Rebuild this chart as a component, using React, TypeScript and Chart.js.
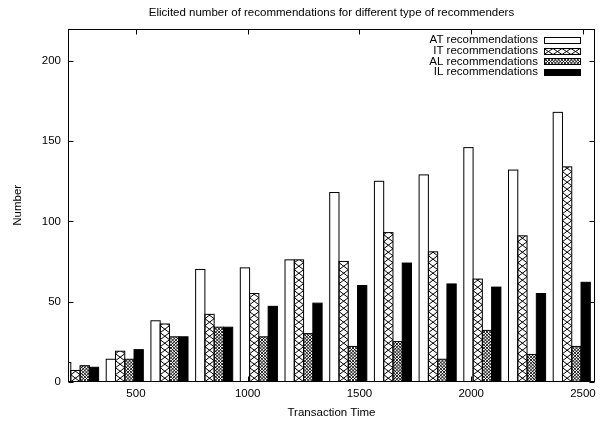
import React, { useEffect, useRef } from 'react';
import { Chart, registerables } from 'chart.js';

Chart.register(...registerables);

const FONT_FAMILY = "'Liberation Sans', Arial, Helvetica, sans-serif";
const FONT_SIZE = 11.5;

const TITLE = 'Elicited number of recommendations for different type of recommenders';
const X_LABEL = 'Transaction Time';
const Y_LABEL = 'Number';

// group positions on the Transaction Time axis
const GROUP_X = [250, 450, 650, 850, 1050, 1250, 1450, 1650, 1850, 2050, 2250, 2450];

const SERIES_NAMES = ['AT recommendations', 'IT recommendations', 'AL recommendations', 'IL recommendations'];
const AT_VALUES = [12, 14, 38, 70, 71, 76, 118, 125, 129, 146, 132, 168];
const IT_VALUES = [7, 19, 36, 42, 55, 76, 75, 93, 81, 64, 91, 134];
const AL_VALUES = [10, 14, 28, 34, 28, 30, 22, 25, 14, 32, 17, 22];
const IL_VALUES = [9, 20, 28, 34, 47, 49, 60, 74, 61, 59, 55, 62];

const X_TICKS = [500, 1000, 1500, 2000, 2500];
const Y_TICKS = [0, 50, 100, 150, 200];

const SERIES_FILL = ['#ffffff', '#ffffff', '#ffffff', '#000000'];
const SERIES_PATTERN = ['none', 'cross', 'fine', 'none'];

function drawCross(ctx: CanvasRenderingContext2D, x: number, y: number, w: number, h: number, cellW: number, cellH: number) {
  ctx.save();
  ctx.beginPath();
  ctx.rect(x, y, w, h);
  ctx.clip();
  ctx.beginPath();
  const nx = Math.max(1, Math.round(w / cellW));
  const cw = w / nx;
  for (let yb = y + h; yb > y - cellH; yb -= cellH) {
    for (let i = 0; i < nx; i++) {
      const x0 = x + i * cw;
      const x1 = x0 + cw;
      ctx.moveTo(x0, yb);
      ctx.lineTo(x1, yb - cellH);
      ctx.moveTo(x1, yb);
      ctx.lineTo(x0, yb - cellH);
    }
  }
  ctx.lineWidth = 1;
  ctx.strokeStyle = '#000';
  ctx.stroke();
  ctx.restore();
}

function drawFine(ctx: CanvasRenderingContext2D, x: number, y: number, w: number, h: number, step: number) {
  ctx.save();
  ctx.beginPath();
  ctx.rect(x, y, w, h);
  ctx.clip();
  ctx.beginPath();
  for (let d = -h - step; d < w + h + step; d += step) {
    ctx.moveTo(x + d, y + h);
    ctx.lineTo(x + d + h, y);
    ctx.moveTo(x + d, y);
    ctx.lineTo(x + d + h, y + h);
  }
  ctx.lineWidth = 0.9;
  ctx.strokeStyle = '#000';
  ctx.stroke();
  ctx.restore();
}

function drawPattern(ctx: CanvasRenderingContext2D, kind: string, x: number, y: number, w: number, h: number, cellW: number, cellH: number) {
  if (kind === 'cross') drawCross(ctx, x, y, w, h, cellW, cellH);
  else if (kind === 'fine') drawFine(ctx, x, y, w, h, 3.2);
}

const gnuplotPlugin = {
  id: 'gnuplotLook',
  afterDatasetsDraw(chart: any) {
    const ctx: CanvasRenderingContext2D = chart.ctx;
    const a = chart.chartArea;
    ctx.save();
    ctx.beginPath();
    ctx.rect(a.left, a.top, a.right - a.left, a.bottom - a.top);
    ctx.clip();
    ctx.strokeStyle = '#000';
    ctx.lineWidth = 1;
    chart.data.datasets.forEach((_ds: any, di: number) => {
      const meta = chart.getDatasetMeta(di);
      meta.data.forEach((el: any) => {
        const p = el.getProps(['x', 'y', 'base', 'width'], true);
        const left = p.x - p.width / 2;
        const top = Math.min(p.y, p.base);
        const h = Math.abs(p.base - p.y);
        drawPattern(ctx, SERIES_PATTERN[di], left, top, p.width, h, p.width, 7);
        ctx.lineWidth = 1;
        ctx.strokeStyle = '#000';
        ctx.strokeRect(left, top, p.width, h);
      });
    });
    ctx.restore();

    // frame and inward ticks
    ctx.save();
    ctx.strokeStyle = '#000';
    ctx.lineWidth = 1;
    const L = Math.round(a.left) + 0.5;
    const R = Math.round(a.right) - 0.5;
    const T = Math.round(a.top) + 0.5;
    const B = Math.round(a.bottom) - 0.5;
    ctx.strokeRect(L, T, R - L, B - T);
    const tick = 5;
    ctx.beginPath();
    X_TICKS.forEach((v) => {
      const px = Math.round(chart.scales.x.getPixelForValue(v)) + 0.5;
      ctx.moveTo(px, B);
      ctx.lineTo(px, B - tick);
      ctx.moveTo(px, T);
      ctx.lineTo(px, T + tick);
    });
    Y_TICKS.forEach((v) => {
      const py = Math.round(chart.scales.y.getPixelForValue(v)) + 0.5;
      ctx.moveTo(L, py);
      ctx.lineTo(L + tick, py);
      ctx.moveTo(R, py);
      ctx.lineTo(R - tick, py);
    });
    ctx.stroke();

    // key (legend), top-right inside the plot
    ctx.font = `${FONT_SIZE}px ${FONT_FAMILY}`;
    ctx.textAlign = 'right';
    ctx.textBaseline = 'middle';
    const textRight = a.right - 57;
    const boxLeft = a.right - 51;
    const boxW = 36;
    const boxH = 6;
    SERIES_NAMES.forEach((name, i) => {
      const cy = a.top + 11 + i * 10.7;
      ctx.fillStyle = '#000';
      ctx.fillText(name, textRight, cy);
      const by = Math.round(cy - boxH / 2) + 0.5;
      ctx.fillStyle = SERIES_FILL[i];
      ctx.fillRect(boxLeft, by, boxW, boxH);
      drawPattern(ctx, SERIES_PATTERN[i], boxLeft, by, boxW, boxH, 9, boxH);
      ctx.strokeStyle = '#000';
      ctx.lineWidth = 1;
      ctx.strokeRect(boxLeft + 0.5, by, boxW, boxH);
    });
    ctx.restore();
  },
};

export default function App() {
  const ref = useRef<HTMLCanvasElement>(null);
  useEffect(() => {
    const canvas = ref.current;
    if (!canvas) return;
    const seriesValues = [AT_VALUES, IT_VALUES, AL_VALUES, IL_VALUES];
    const font = { family: FONT_FAMILY, size: FONT_SIZE, weight: 'normal' as const, lineHeight: 1.2 };
    const chart = new Chart(canvas, {
      type: 'bar',
      data: {
        datasets: SERIES_NAMES.map((name, s) => ({
          label: name,
          data: GROUP_X.map((x, i) => ({ x, y: seriesValues[s][i] })),
          backgroundColor: SERIES_FILL[s],
          borderWidth: 0,
          categoryPercentage: 0.83,
          barPercentage: 1,
          clip: 0,
        })),
      } as any,
      options: {
        animation: false,
        responsive: true,
        maintainAspectRatio: false,
        layout: { padding: { left: 0, right: 16, top: 0, bottom: 0 } },
        plugins: {
          legend: { display: false },
          tooltip: { enabled: false },
          title: {
            display: true,
            text: TITLE,
            color: '#000',
            font,
            fullSize: false,
            padding: { top: 6.2, bottom: 9 },
          },
        },
        scales: {
          x: {
            type: 'linear',
            min: 196,
            max: 2554,
            offset: false,
            grid: { display: false, drawTicks: false },
            border: { display: false },
            afterBuildTicks: (s: any) => {
              s.ticks = X_TICKS.map((v) => ({ value: v }));
            },
            afterFit: (s: any) => {
              s.height = 41.3;
            },
            ticks: {
              callback: (v: any) => String(v),
              color: '#000',
              font,
              padding: 5,
              maxRotation: 0,
              autoSkip: false,
            },
            title: {
              display: true,
              text: X_LABEL,
              color: '#000',
              font,
              padding: { top: 0, bottom: 3.4 },
            },
          },
          y: {
            type: 'linear',
            min: 0,
            max: 220,
            grid: { display: false, drawTicks: false },
            border: { display: false },
            afterBuildTicks: (s: any) => {
              s.ticks = Y_TICKS.map((v) => ({ value: v }));
            },
            afterFit: (s: any) => {
              s.width = 68;
            },
            ticks: {
              callback: (v: any) => String(v),
              color: '#000',
              font,
              padding: 7,
            },
            title: {
              display: true,
              text: Y_LABEL,
              color: '#000',
              font,
              padding: { top: 11, bottom: 0 },
            },
          },
        },
      } as any,
      plugins: [gnuplotPlugin],
    });
    return () => chart.destroy();
  }, []);
  return (
    <div style={{ position: 'absolute', left: 0, top: 0, width: 611, height: 423, background: '#fff' }}>
      <canvas ref={ref} />
    </div>
  );
}
